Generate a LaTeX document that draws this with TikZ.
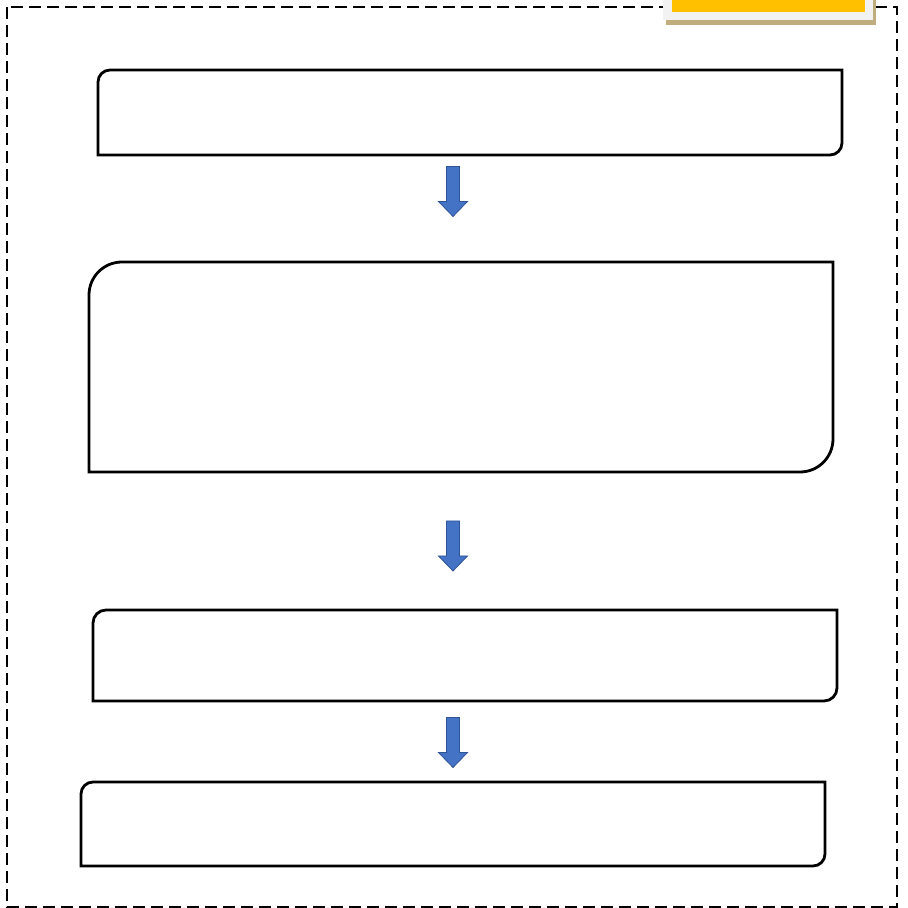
\documentclass[tikz,border=0pt]{standalone}
\definecolor{arrowblue}{HTML}{4472C4}
\definecolor{arrowedge}{HTML}{2F5597}
\definecolor{tagyellow}{HTML}{FFC000}
\definecolor{taggray}{HTML}{F2F2F2}
\definecolor{tagshadow}{HTML}{C0AD7E}
\begin{document}
\begin{tikzpicture}[x=1pt,y=1pt,
  boxslot/.style={rectangle,draw=none,inner sep=0pt,outer sep=0pt,minimum width=744pt},
  boxline/.style={draw=black,line width=2.8pt},
  blockarrow/.pic={
    \draw[fill=arrowblue,draw=arrowedge,line width=0.8pt,line join=miter]
      (-6.5,25) -- (6.5,25) -- (6.5,-10) -- (14.5,-10) -- (0,-25) -- (-14.5,-10) -- (-6.5,-10) -- cycle;
  }]
\useasboundingbox (0,0) rectangle (908,908);
% outer dashed frame
\draw[line width=1.8pt,dash pattern=on 12pt off 6pt] (7,901) rectangle (897,1);
% tag at top right
\fill[tagshadow] (666,882.5) rectangle (876,908);
\fill[taggray] (663,888) rectangle (873,908);
\fill[tagyellow] (672,896) rectangle (865,908);
% box slots
\node[boxslot,minimum height=85pt] (b1) at (470,795.5) {};
\node[boxslot,minimum height=210pt] (b2) at (461,541) {};
\node[boxslot,minimum height=91pt] (b3) at (465,252.5) {};
\node[boxslot,minimum height=84pt] (b4) at (453,84) {};
% outlines: top-left and bottom-right rounded
\draw[boxline] (b1.south west) -- ([yshift=-12pt]b1.north west) arc[start angle=180,end angle=90,radius=12pt]
  -- (b1.north east) -- ([yshift=12pt]b1.south east) arc[start angle=0,end angle=-90,radius=12pt] -- cycle;
\draw[boxline] (b2.south west) -- ([yshift=-33pt]b2.north west) arc[start angle=180,end angle=90,radius=33pt]
  -- (b2.north east) -- ([yshift=33pt]b2.south east) arc[start angle=0,end angle=-90,radius=33pt] -- cycle;
\draw[boxline] (b3.south west) -- ([yshift=-13pt]b3.north west) arc[start angle=180,end angle=90,radius=13pt]
  -- (b3.north east) -- ([yshift=13pt]b3.south east) arc[start angle=0,end angle=-90,radius=13pt] -- cycle;
\draw[boxline] (b4.south west) -- ([yshift=-12pt]b4.north west) arc[start angle=180,end angle=90,radius=12pt]
  -- (b4.north east) -- ([yshift=12pt]b4.south east) arc[start angle=0,end angle=-90,radius=12pt] -- cycle;
% block arrows
\pic (a1) at (453,716.5) {blockarrow};
\pic (a2) at (453,362) {blockarrow};
\pic (a3) at (453,165.5) {blockarrow};
\end{tikzpicture}
\end{document}
